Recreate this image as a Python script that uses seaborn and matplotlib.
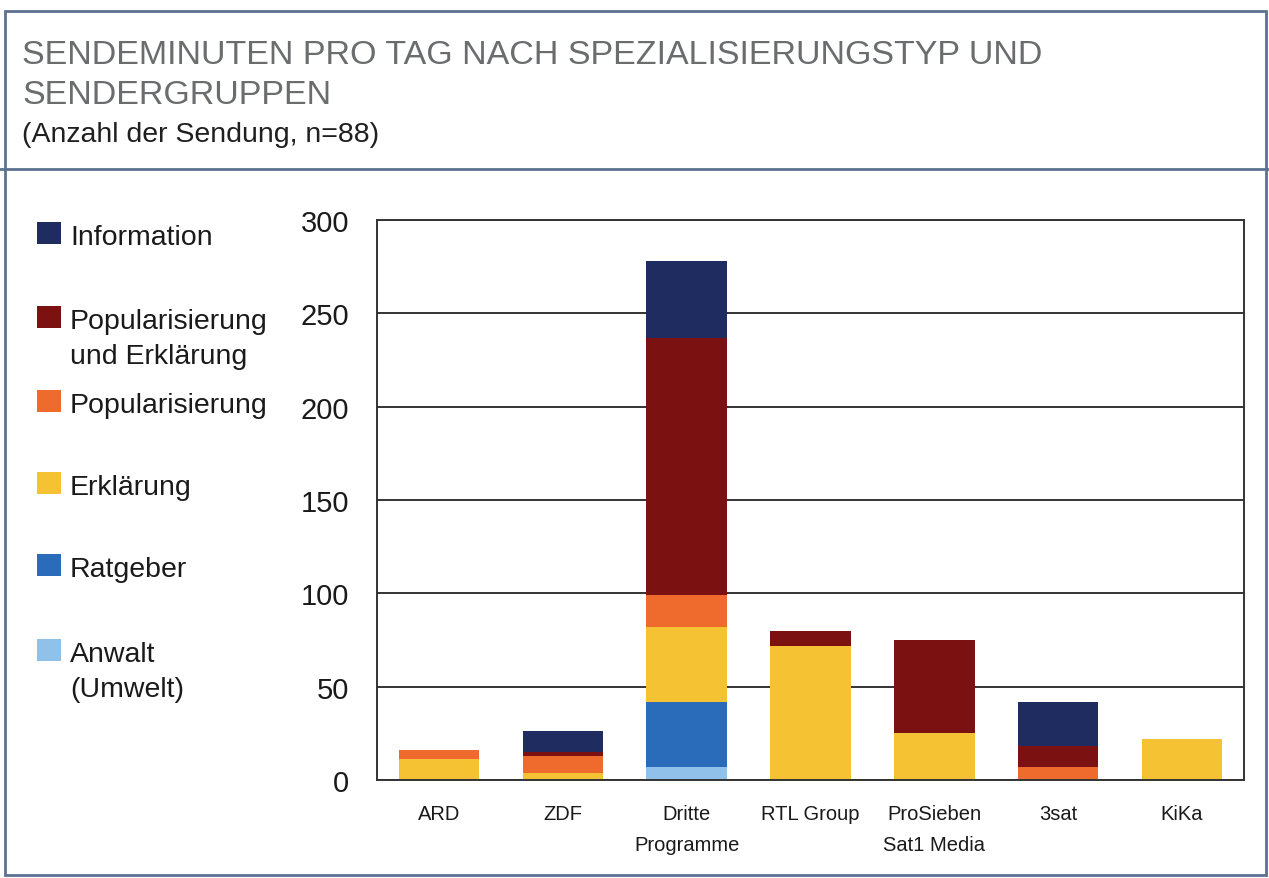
import matplotlib
matplotlib.use("Agg")
import matplotlib.pyplot as plt
from matplotlib.patches import Rectangle
from matplotlib.lines import Line2D
import pandas as pd
import seaborn as sns

# ---- data (minutes per day) ----
SENDERS = ["ARD", "ZDF", "Dritte\nProgramme", "RTL Group",
           "ProSieben\nSat1 Media", "3sat", "KiKa"]
ANWALT = [0, 0, 7, 0, 0, 0, 0]
RATGEBER = [0, 0, 35, 0, 0, 0, 0]
ERKLAERUNG = [11, 4, 40, 72, 25, 0, 22]
POPULARISIERUNG = [5, 9, 17, 0, 0, 7, 0]
POP_ERKL = [0, 2, 138, 8, 50, 11, 0]
INFORMATION = [0, 11, 41, 0, 0, 24, 0]

# bottom -> top stacking order
SERIES = ["Anwalt (Umwelt)", "Ratgeber", "Erklärung", "Popularisierung",
          "Popularisierung und Erklärung", "Information"]
COLORS = ["#8fc1ea", "#2a6cb9", "#f4c232", "#ef6b2d", "#7b1111", "#1f2c5f"]

W, H = 1269, 879
FONT = ["Liberation Sans", "DejaVu Sans"]

sns.set_theme(style="white")
plt.rcParams["font.family"] = FONT

df = pd.DataFrame({
    "sender": SENDERS,
    SERIES[0]: ANWALT,
    SERIES[1]: RATGEBER,
    SERIES[2]: ERKLAERUNG,
    SERIES[3]: POPULARISIERUNG,
    SERIES[4]: POP_ERKL,
    SERIES[5]: INFORMATION,
})
cum = df[SERIES].cumsum(axis=1)

fig = plt.figure(figsize=(W / 100, H / 100), dpi=100)
fig.patch.set_facecolor("white")


def fx(px):
    return px / W


def fy(py):
    return 1 - py / H


ax = fig.add_axes([fx(377), fy(781), fx(1244) - fx(377), fy(221) - fy(781)])

# stacked bars: draw cumulative totals from the top segment down
for name, color in reversed(list(zip(SERIES, COLORS))):
    sns.barplot(x=df["sender"], y=cum[name], color=color, saturation=1,
                width=0.65, ax=ax, linewidth=0, order=SENDERS)

ax.set_ylim(0, 300)
ax.set_xlim(-0.5, 6.5)
ax.set_yticks([0, 50, 100, 150, 200, 250, 300])
ax.yaxis.grid(True, color="#333333", linewidth=1.4)
ax.set_axisbelow(True)
for sp in ax.spines.values():
    sp.set_visible(True)
    sp.set_color("#333333")
    sp.set_linewidth(1.4)
ax.set_xlabel("")
ax.set_ylabel("")
ax.tick_params(axis="y", length=0, pad=20, labelsize=21, labelcolor="#1a1a1a")
ax.tick_params(axis="x", length=0, pad=17, labelsize=14.5, labelcolor="#1a1a1a")
for lbl in ax.get_xticklabels():
    lbl.set_linespacing(1.85)
    lbl.set_verticalalignment("top")

# ---- header ----
fig.text(fx(22), fy(52), "SENDEMINUTEN PRO TAG NACH SPEZIALISIERUNGSTYP UND",
         fontsize=24.5, color="#6b6c6e", va="center_baseline", ha="left")
fig.text(fx(22), fy(92), "SENDERGRUPPEN",
         fontsize=24.5, color="#6b6c6e", va="center_baseline", ha="left")
fig.text(fx(22), fy(132), "(Anzahl der Sendung, n=88)",
         fontsize=20.5, color="#1f1f1f", va="center_baseline", ha="left")

# frame and header separator
border = "#5b7390"
fig.add_artist(Rectangle((fx(5), fy(876)), fx(1266) - fx(5), fy(12) - fy(876),
                         transform=fig.transFigure, fill=False,
                         edgecolor=border, linewidth=2))
fig.add_artist(Line2D([0, 1], [fy(170), fy(170)], transform=fig.transFigure,
                      color=border, linewidth=2))

# ---- legend (manual, matches uneven spacing of the original) ----
legend_items = [
    ("Information", [238]),
    ("Popularisierung\nund Erklärung", [322, 357]),
    ("Popularisierung", [406]),
    ("Erklärung", [488]),
    ("Ratgeber", [570]),
    ("Anwalt\n(Umwelt)", [655, 690]),
]
legend_colors = dict(zip(
    ["Information", "Popularisierung\nund Erklärung", "Popularisierung",
     "Erklärung", "Ratgeber", "Anwalt\n(Umwelt)"],
    ["#1f2c5f", "#7b1111", "#ef6b2d", "#f4c232", "#2a6cb9", "#8fc1ea"]))
for label, ys in legend_items:
    y0 = ys[0] - 4
    fig.add_artist(Rectangle((fx(37), fy(y0 + 11)), fx(24), fy(y0 - 11) - fy(y0 + 11),
                             transform=fig.transFigure,
                             facecolor=legend_colors[label], edgecolor="none"))
    for line, y in zip(label.split("\n"), ys):
        fig.text(fx(70), fy(y), line, fontsize=20.5, color="#1a1a1a",
                 va="center", ha="left")

fig.savefig("out.png", dpi=100, facecolor="white")
